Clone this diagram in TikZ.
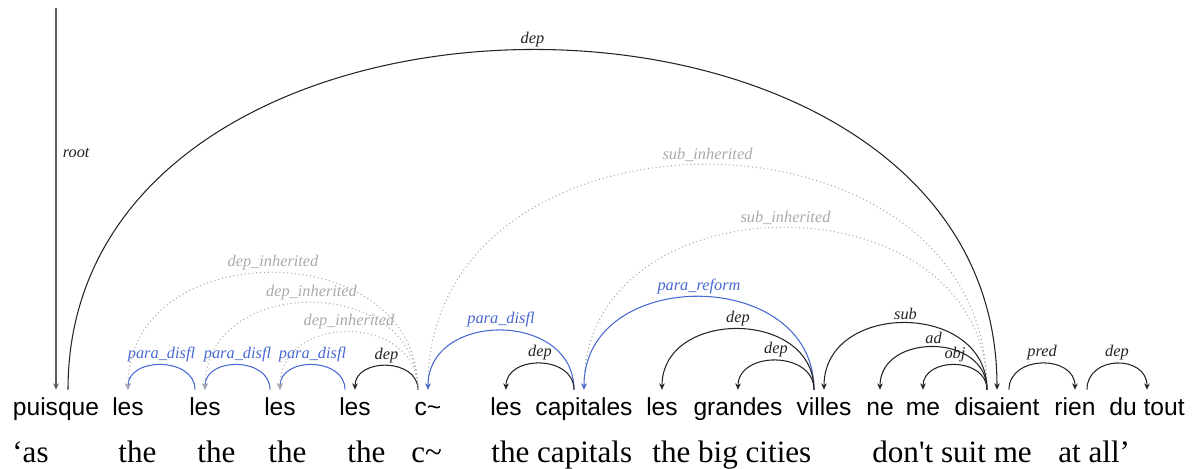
\documentclass[tikz,border=0pt]{standalone}
\usepackage{fontspec}
\setmainfont{Liberation Serif}
\setsansfont{Liberation Sans}
\usetikzlibrary{arrows.meta}

\definecolor{arcblack}{RGB}{35,35,35}
\definecolor{arcblue}{RGB}{72,104,210}
\definecolor{arcgray}{RGB}{170,170,170}
\definecolor{rootgray}{RGB}{95,95,95}

\tikzset{
  word/.style={font=\sffamily\fontsize{14}{16}\selectfont, anchor=base, inner xsep=0pt, inner ysep=4.2pt, text height=10pt, text depth=3pt},
  gloss/.style={font=\fontsize{17.7}{20}\selectfont, anchor=base west, inner sep=0pt},
  dep/.style={-{Stealth[length=3.6pt,width=3.2pt]}, line width=0.6pt, arcblack},
  para/.style={dep, arcblue},
  inh/.style={dep, arcgray, dash pattern=on 0.6pt off 1.6pt},
  lab/.style={font=\itshape\fontsize{9.3}{10}\selectfont, above, inner sep=1.5pt}
}

\begin{document}
\begin{tikzpicture}[x=0.2mm,y=-0.2mm]
            \useasboundingbox (0,0) rectangle (1199,468);

            % 句子
            \node[word] (puisque) at (56,415) {puisque};
            \node[word] (les1) at (128,415) {les};
            \node[word] (les2) at (205,415) {les};
            \node[word] (les3) at (280,415) {les};
            \node[word] (les4) at (355,415) {les};
            \node[word] (ctilde) at (428,415) {c\textasciitilde};
            \node[word] (les5) at (506,415) {les};
            \node[word] (capitales) at (584,415) {capitales};
            \node[word] (les6) at (662,415) {les};
            \node[word] (grandes) at (738,415) {grandes};
            \node[word] (villes) at (824,415) {villes};
            \node[word] (ne) at (880,415) {ne};
            \node[word] (me) at (923,415) {me};
            \node[word] (disaient) at (997,415) {disaient};
            \node[word] (rien) at (1075,415) {rien};
            \node[word] (dutout) at (1147,415) {du tout};

            % 翻译
            \node[gloss] (gas) at (12,462) {‘as};
            \node[gloss] (gthe1) at (118,462) {the};
            \node[gloss] (gthe2) at (197,462) {the};
            \node[gloss] (gthe3) at (268,462) {the};
            \node[gloss] (gthe4) at (347,462) {the};
            \node[gloss] (gctilde) at (411,462) {c\textasciitilde};
            \node[gloss] (gcapitals) at (491,462) {the capitals};
            \node[gloss] (gcities) at (652,462) {the big cities};
            \node[gloss] (gsuit) at (872,462) {don\textquotesingle t suit me};
            \node[gloss] (gatall) at (1058,462) {at all’};

            % 根
            \coordinate (roottop) at (56,8);
            \draw[dep, rootgray, line width=0.8pt] (roottop) -- (puisque.north) node[lab, pos=0.38, right=2pt, text=arcblack] {root};
            \draw[dep] ([xshift=2.4mm]puisque.north) .. controls +(0,-453) and +(0,-453) .. (disaient.north) node[lab, midway] {dep};

            % 左边的弧
            \draw[para] ([xshift=-2mm]les2.north) .. controls +(0,-33) and +(0,-33) .. (les1.north) node[lab, midway] {para\_disfl};
            \draw[para] ([xshift=-2mm]les3.north) .. controls +(0,-33) and +(0,-33) .. (les2.north) node[lab, midway] {para\_disfl};
            \draw[para] ([xshift=-2mm]les4.north) .. controls +(0,-33) and +(0,-33) .. (les3.north) node[lab, midway] {para\_disfl};
            \draw[dep] ([xshift=-2mm]ctilde.north) .. controls +(0,-32) and +(0,-32) .. (les4.north) node[lab, midway] {dep};
            \draw[inh] ([xshift=-2mm]ctilde.north) .. controls +(0,-156) and +(0,-156) .. (les1.north) node[lab, midway] {dep\_inherited};
            \draw[inh] ([xshift=-2mm]ctilde.north) .. controls +(0,-116) and +(0,-116) .. (les2.north) node[lab, midway] {dep\_inherited};
            \draw[inh] ([xshift=-2mm]ctilde.north) .. controls +(0,-77) and +(0,-77) .. (les3.north) node[lab, midway] {dep\_inherited};

            % 中间的弧
            \draw[inh] ([xshift=-2mm]disaient.north) .. controls +(0,-300) and +(0,-300) .. (ctilde.north) node[lab, midway] {sub\_inherited};
            \draw[inh] ([xshift=-2mm]disaient.north) .. controls +(0,-216) and +(0,-216) .. (capitales.north) node[lab, midway] {sub\_inherited};
            \draw[para] ([xshift=-2mm]capitales.north) .. controls +(0,-79) and +(0,-79) .. (ctilde.north) node[lab, midway] {para\_disfl};
            \draw[dep] ([xshift=-2mm]capitales.north) .. controls +(0,-35) and +(0,-35) .. (les5.north) node[lab, midway] {dep};
            \draw[para] ([xshift=-2mm]villes.north) .. controls +(0,-124) and +(0,-124) .. (capitales.north) node[lab, midway] {para\_reform};
            \draw[dep] ([xshift=-2mm]villes.north) .. controls +(0,-81) and +(0,-81) .. (les6.north) node[lab, midway] {dep};
            \draw[dep] ([xshift=-2mm]villes.north) .. controls +(0,-39) and +(0,-39) .. (grandes.north) node[lab, midway] {dep};

            % 右边的弧
            \draw[dep] ([xshift=-2mm]disaient.north) .. controls +(0,-89) and +(0,-89) .. (villes.north) node[lab, midway] {sub};
            \draw[dep] ([xshift=-2mm]disaient.north) .. controls +(0,-57) and +(0,-57) .. (ne.north) node[lab, midway] {ad};
            \draw[dep] ([xshift=-2mm]disaient.north) .. controls +(0,-33) and +(0,-33) .. (me.north) node[lab, midway] {obj};
            \draw[dep] ([xshift=2.4mm]disaient.north) .. controls +(0,-35) and +(0,-35) .. (rien.north) node[lab, midway] {pred};
            \draw[dep] ([xshift=2.4mm]rien.north) .. controls +(0,-35) and +(0,-35) .. (dutout.north) node[lab, midway] {dep};
\end{tikzpicture}
\end{document}
